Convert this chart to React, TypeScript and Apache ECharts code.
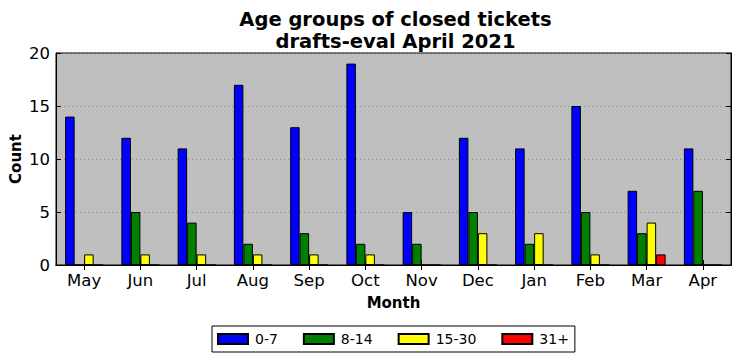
import React, { useEffect, useRef } from "react";
import * as echarts from "echarts";

const months = ["May", "Jun", "Jul", "Aug", "Sep", "Oct", "Nov", "Dec", "Jan", "Feb", "Mar", "Apr"];
const age0to7 = [14, 12, 11, 17, 13, 19, 5, 12, 11, 15, 7, 11];
const age8to14 = [0, 5, 4, 2, 3, 2, 2, 5, 2, 5, 3, 7];
const age15to30 = [1, 1, 1, 1, 1, 1, 0, 3, 3, 1, 4, 0];
const age31plus = [0, 0, 0, 0, 0, 0, 0, 0, 0, 0, 1, 0];
const seriesNames = ["0-7", "8-14", "15-30", "31+"];
const seriesColors = ["#0000ff", "#008000", "#ffff00", "#ff0000"];

const FONT = "DejaVu Sans";

export default function App() {
  const ref = useRef<HTMLDivElement>(null);
  useEffect(() => {
    document.body.style.margin = "0";
    const chart = echarts.init(ref.current!, null, { renderer: "svg" });
    const data = [age0to7, age8to14, age15to30, age31plus];
    const left = 56, right = 11, top = 53, bottom = 96;
    const plotCenter = left + (742 - left - right) / 2;
    chart.setOption({
      animation: false,
      textStyle: { fontFamily: FONT },
      title: {
        text: "Age groups of closed tickets\ndrafts-eval April 2021",
        left: plotCenter - 3,
        top: 3,
        textAlign: "center",
        textStyle: { fontFamily: FONT, fontSize: 19.5, fontWeight: "bold", color: "#000", lineHeight: 22 },
      },
      legend: {
        data: seriesNames,
        left: 212,
        top: 326,
        padding: [6, 6, 6, 5],
        itemGap: 25,
        itemWidth: 30,
        itemHeight: 10,
        icon: "rect",
        borderColor: "#000",
        borderWidth: 1,
        borderRadius: 0,
        textStyle: { fontFamily: FONT, fontSize: 14, color: "#000", padding: [0, 0, 0, 2] },
      },
      grid: {
        left, right, top, bottom,
        show: true,
        backgroundColor: "#bfbfbf",
        borderColor: "#000",
        borderWidth: 1,
      },
      xAxis: [
        {
          type: "category",
          data: months,
          axisLine: { show: true, lineStyle: { color: "#000" } },
          axisTick: { show: true, inside: true, alignWithLabel: true, length: 5, lineStyle: { color: "#000" } },
          axisLabel: { fontFamily: FONT, fontSize: 16.5, color: "#000", margin: 7 },
          splitLine: { show: false },
        },
        {
          type: "category",
          data: months,
          position: "top",
          axisLine: { show: true, lineStyle: { color: "#000" } },
          axisTick: { show: true, inside: true, alignWithLabel: true, length: 5, lineStyle: { color: "#000" } },
          axisLabel: { show: false },
        },
      ],
      yAxis: [
        {
          type: "value",
          min: 0,
          max: 20,
          interval: 5,
          axisLine: { show: true, lineStyle: { color: "#000" } },
          axisTick: { show: true, inside: true, length: 5, lineStyle: { color: "#000" } },
          axisLabel: { fontFamily: FONT, fontSize: 16.5, color: "#000", margin: 6 },
          splitLine: { show: true, lineStyle: { color: "#8a8a8a", type: [1, 3], width: 1 } },
        },
        {
          type: "value",
          min: 0,
          max: 20,
          interval: 5,
          position: "right",
          axisLine: { show: true, lineStyle: { color: "#000" } },
          axisTick: { show: true, inside: true, length: 5, lineStyle: { color: "#000" } },
          axisLabel: { show: false },
          splitLine: { show: false },
        },
      ],
      graphic: [
        {
          type: "text",
          x: 16,
          y: 159,
          rotation: Math.PI / 2,
          style: {
            text: "Count",
            fontFamily: FONT,
            fontSize: 15,
            fontWeight: "bold",
            fill: "#000",
            align: "center",
            verticalAlign: "middle",
          },
        },
        {
          type: "text",
          x: plotCenter,
          y: 303,
          style: {
            text: "Month",
            fontFamily: FONT,
            fontSize: 15,
            fontWeight: "bold",
            fill: "#000",
            align: "center",
            verticalAlign: "middle",
          },
        },
      ],
      series: seriesNames.map((name, i) => ({
        name,
        type: "bar",
        data: data[i],
        barWidth: 9.5,
        barGap: "0%",
        itemStyle: { color: seriesColors[i], borderColor: "#000", borderWidth: 1 },
      })),
    });
    return () => chart.dispose();
  }, []);
  return <div ref={ref} style={{ width: 742, height: 361 }} />;
}
